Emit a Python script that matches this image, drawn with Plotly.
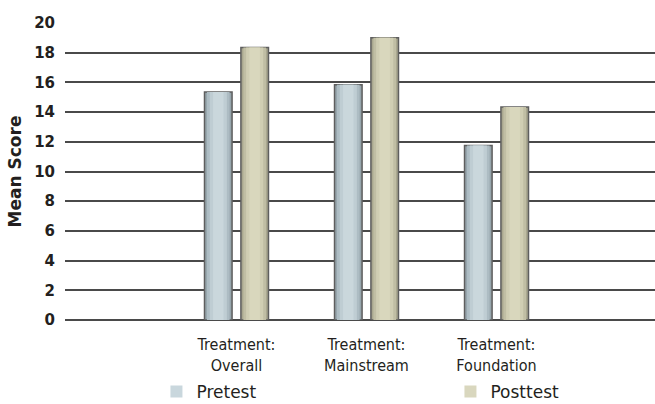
import plotly.graph_objects as go

categories = ["Treatment:<br>Overall", "Treatment:<br>Mainstream", "Treatment:<br>Foundation"]
positions = [1, 2, 3]
pretest = [15.35, 15.85, 11.75]
posttest = [18.35, 19.0, 14.35]
y_ticks = list(range(0, 21, 2))

BAR_W = 0.212
series = [
    # name, values, offset, gradient layers (fraction of width, colour)
    ("Pretest", pretest, -0.246,
     [(1.0, "#97a6ad"), (0.82, "#adbcc3"), (0.62, "#bfcdd3"), (0.38, "#cad7dc")], "#c9d7dd"),
    ("Posttest", posttest, 0.034,
     [(1.0, "#a9a78f"), (0.82, "#c0bea4"), (0.62, "#d0ceb3"), (0.38, "#d9d7bd")], "#d9d7be"),
]

fig = go.Figure()
for name, vals, off, layers, legcol in series:
    for i, (frac, col) in enumerate(layers):
        w = BAR_W * frac
        o = off + (BAR_W - w) / 2
        first = i == 0
        fig.add_trace(go.Bar(
            x=positions, y=vals, width=[w] * len(vals), offset=[o] * len(vals),
            marker=dict(color=col,
                        line=dict(color="#5e5e5e" if first else "rgba(0,0,0,0)", width=1.5 if first else 0)),
            name=name, showlegend=False, hoverinfo="skip" if not first else None,
        ))
    # legend entry
    fig.add_trace(go.Bar(x=[None], y=[None], name=name,
                         marker=dict(color=legcol, line=dict(width=0)), showlegend=True))

fig.update_layout(
    width=655, height=404,
    margin=dict(l=65, r=0, t=23, b=84, pad=0, autoexpand=False),
    paper_bgcolor="white", plot_bgcolor="white",
    barmode="overlay",
    showlegend=True,
    legend=dict(orientation="h", x=0.155, xanchor="left", y=-0.182, yanchor="top",
                font=dict(family="DejaVu Sans", size=17, color="#231f20"),
                entrywidth=249, entrywidthmode="pixels",
                bgcolor="rgba(0,0,0,0)", itemclick=False),
    font=dict(family="Liberation Sans", color="#231f20"),
)
fig.update_xaxes(
    range=[-0.319, 4.219], tickvals=positions, ticktext=categories,
    showgrid=False, zeroline=False, showline=False,
    ticks="outside", ticklen=10, tickcolor="rgba(0,0,0,0)",
    tickfont=dict(family="DejaVu Sans Condensed, Roboto Condensed, Liberation Sans Narrow, Liberation Sans",
                  size=16, color="#231f20"),
)
fig.update_yaxes(
    range=[0, 20], tickvals=y_ticks,
    showgrid=True, gridcolor="#4a4a4a", gridwidth=1.5,
    zeroline=True, zerolinecolor="#4a4a4a", zerolinewidth=1.5,
    showline=False,
    ticks="outside", ticklen=6, tickcolor="rgba(0,0,0,0)",
    tickfont=dict(family="DejaVu Sans", size=15, color="#231f20", weight="bold"),
    title=dict(text="Mean Score", standoff=8,
               font=dict(family="DejaVu Sans", size=17, color="#231f20", weight="bold")),
)

fig.write_html("out.html")
